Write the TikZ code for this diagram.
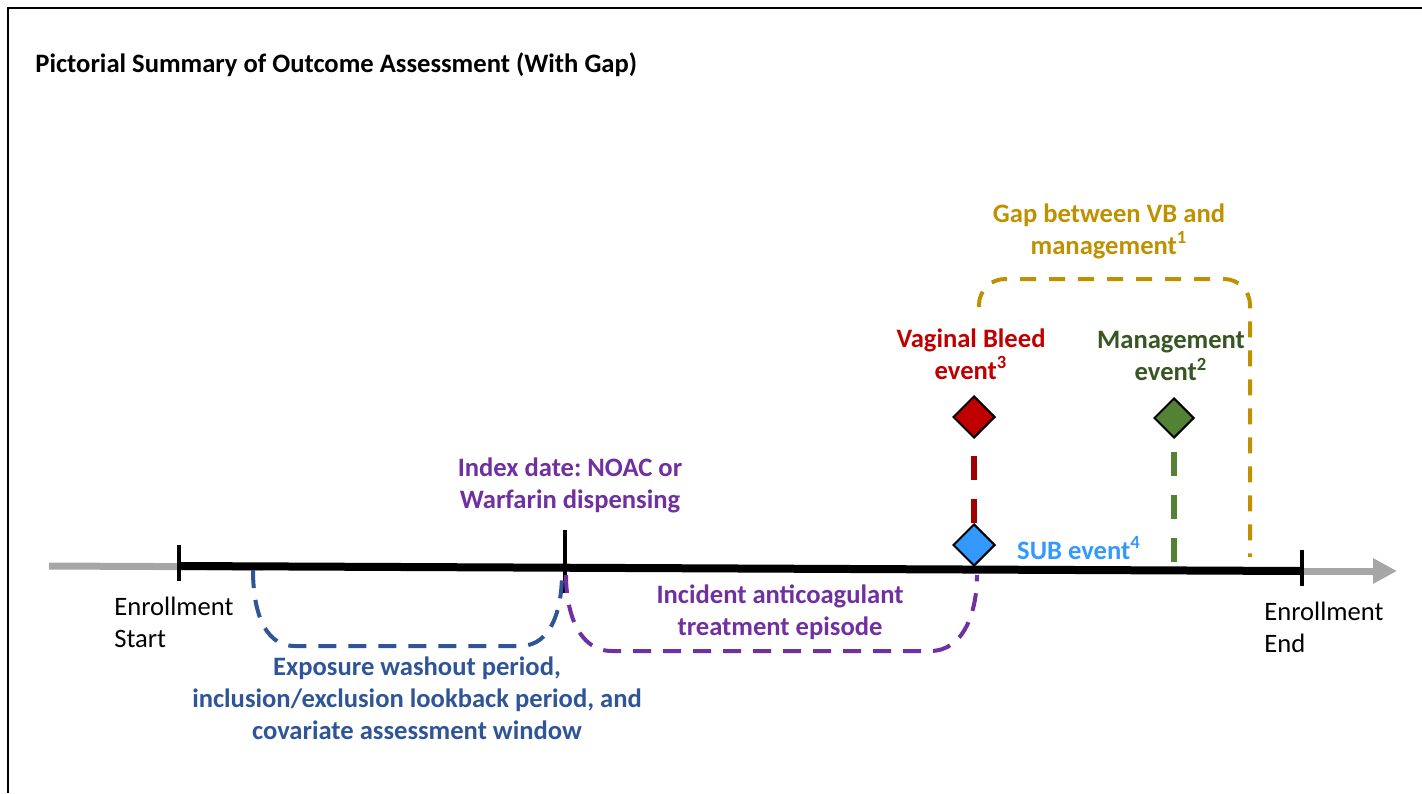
\documentclass[tikz,border=0pt]{standalone}
\usepackage{fontspec}
\setmainfont{Carlito}
\usetikzlibrary{shapes.geometric,arrows.meta}

\definecolor{washblue}{HTML}{2F5597}
\definecolor{idxpurple}{HTML}{7030A0}
\definecolor{vbred}{HTML}{C00000}
\definecolor{vbline}{HTML}{A00000}
\definecolor{mgfill}{HTML}{548235}
\definecolor{mgtext}{HTML}{375623}
\definecolor{gapgold}{HTML}{BF9000}
\definecolor{subblue}{HTML}{3399FF}
\definecolor{axisgrey}{HTML}{A6A6A6}

\newcommand{\lblfont}{\fontsize{13.3pt}{16pt}\selectfont\frenchspacing}

\tikzset{
  lbl/.style={font=\lblfont\bfseries, align=center, inner sep=0pt},
  enroll/.style={font=\lblfont, align=left, inner sep=0pt, anchor=west},
  event/.style={diamond, draw=black, line width=1pt, minimum width=21pt, minimum height=21pt, inner sep=0pt},
  bracket/.style={line width=2pt, dash pattern=on 9pt off 6pt},
  eventline/.style={line width=3.2pt, dash pattern=on 12pt off 9.5pt},
  tickmark/.style={line width=1.8pt},
}

\begin{document}
\begin{tikzpicture}[x=0.5pt,y=-0.5pt]
\useasboundingbox (0,0) rectangle (1422,793);
% frame
\draw[line width=1.2pt] (1422,8) -- (8,8) -- (8,793);
\node[lbl,anchor=west] (title) at (35,65) {Pictorial Summary of Outcome Assessment (With Gap)};

% time line
\coordinate (pre) at (49,566);
\coordinate (estart) at (179,566);
\coordinate (greyend) at (263,567);
\coordinate (index) at (565,568);
\coordinate (eend) at (1302,571);
\coordinate (post) at (1397,571);
\draw[axisgrey,line width=3.5pt] (pre) -- (greyend);
\draw[axisgrey,line width=3.5pt,-{Triangle[length=12pt,width=12pt]}] (eend) -- (post);
\draw[line width=4pt] (estart) -- (eend);
\draw[tickmark] (estart) ++(0,-21) -- ++(0,36);
\draw[tickmark] (index) ++(0,-38) -- ++(0,63);
\draw[tickmark] (eend) ++(0,-21) -- ++(0,36);
\node[enroll] (startlbl) at (114,622) {Enrollment\\Start};
\node[enroll] (endlbl) at (1264,627) {Enrollment\\End};

% periods
\coordinate (wstart) at (253,570);
\coordinate (wend) at (562,573);
\draw[washblue,bracket] (wstart) to[out=-90,in=180] (295,646) -- (520,646) to[out=0,in=-90] (wend);
\node[lbl,washblue] (washlbl) at (417,698) {Exposure washout period,\\inclusion/exclusion lookback period, and\\covariate assessment window};

\coordinate (tstart) at (566,575);
\coordinate (tend) at (977,575);
\draw[idxpurple,bracket] (tstart) to[out=-90,in=180] (612,651) -- (930,651) to[out=0,in=-90] (tend);
\node[lbl,idxpurple] (idxlbl) at (570,485) {Index date: NOAC or\\Warfarin dispensing};
\node[lbl,idxpurple] (txlbl) at (780,612) {Incident anticoagulant\\treatment episode};

% events
\node[event,fill=vbred] (vbev) at (974,417) {};
\node[event,fill=subblue] (subev) at (974,545) {};
\node[event,fill=mgfill,minimum width=20pt,minimum height=20pt] (mgev) at (1174,418) {};
\draw[vbline,eventline] (subev.north) -- (vbev.south);
\coordinate (mgfoot) at (1174,562);
\draw[mgfill,eventline] (mgfoot) -- (mgev.south);
\node[lbl,vbred] (vblbl) at (971,354) {Vaginal Bleed\\event\textsuperscript{3}};
\node[lbl,mgtext] (mglbl) at (1171,356) {Management\\event\textsuperscript{2}};
\node[lbl,subblue] (sublbl) at (1079,548) {SUB event\textsuperscript{4}};

% gap
\coordinate (gstart) at (979,307);
\coordinate (gend) at (1250,557);
\draw[gapgold,bracket,dash pattern=on 8pt off 6.5pt,rounded corners=13pt] (gstart) |- (1114,279) -| (gend);
\node[lbl,gapgold] (gaplbl) at (1109,231) {Gap between VB and\\management\textsuperscript{1}};
\end{tikzpicture}
\end{document}
